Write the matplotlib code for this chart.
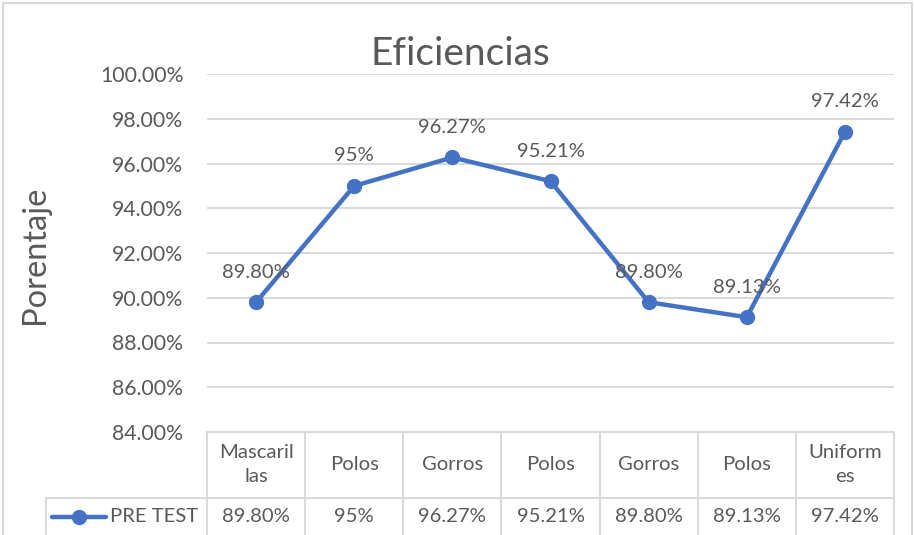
import matplotlib
matplotlib.use("Agg")
import matplotlib.pyplot as plt
from matplotlib.lines import Line2D
from matplotlib.patches import Rectangle
import matplotlib.transforms as mtransforms

# ---- data ----
categories = ["Mascaril\nlas", "Polos", "Gorros", "Polos", "Gorros", "Polos", "Uniform\nes"]
values = [89.80, 95.00, 96.27, 95.21, 89.80, 89.13, 97.42]
value_labels = ["89.80%", "95%", "96.27%", "95.21%", "89.80%", "89.13%", "97.42%"]
series_name = "PRE TEST"
yticks = [84, 86, 88, 90, 92, 94, 96, 98, 100]
title = "Eficiencias"
ylabel = "Porentaje"

# ---- style ----
plt.rcParams['font.family'] = ['Lato', 'DejaVu Sans']
TXT = "#595959"
GRID = "#D9D9D9"
LINE = "#4472C4"
FS = 14.6

W, H = 915, 535
fig = plt.figure(figsize=(W / 100, H / 100), dpi=100)


def fx(px):
    return px / W


def fy(py):
    return 1 - py / H


ax = fig.add_axes([fx(207), fy(432), fx(894) - fx(207), fy(74) - fy(432)])
x = list(range(len(values)))
ax.plot(x, values, color=LINE, lw=3.2, marker="o", ms=10, solid_capstyle="round", zorder=3)
for xi, v, lab in zip(x, values, value_labels):
    ax.annotate(lab, (xi, v), xytext=(0, 30), textcoords="offset pixels",
                ha="center", va="center", fontsize=FS, color=TXT)

ax.set_xlim(-0.5, len(values) - 0.5)
ax.set_ylim(84, 100)
ax.set_yticks(yticks)
ax.set_yticklabels([f"{t:.2f}%" for t in yticks], fontsize=15.3, color=TXT)
ax.tick_params(axis="y", length=0, pad=17)
ax.set_xticks([])
ax.grid(axis="y", color=GRID, lw=1.4)
ax.set_axisbelow(True)
for s in ax.spines.values():
    s.set_visible(False)

fig.text(fx(460), fy(54), title, ha="center", va="center", fontsize=28, color=TXT)
fig.text(fx(35), fy(255), ylabel, ha="center", va="center", rotation=90, fontsize=23.5, color=TXT)

# ---- data table ----
bt = mtransforms.blended_transform_factory(ax.transData, fig.transFigure)
ft = fig.transFigure
y_top, y_mid, y_bot = fy(432), fy(498), fy(540)
for i in range(len(values) + 1):
    xe = i - 0.5
    fig.add_artist(Line2D([xe, xe], [y_top, y_bot], transform=bt, color=GRID, lw=1.4))
fig.add_artist(Line2D([-0.5, len(values) - 0.5], [y_top, y_top], transform=bt, color=GRID, lw=1.4))
# middle line: from data-row left border to last column
disp_left = ft.transform((fx(46), 0))[0]
x_left_data = ax.transData.inverted().transform((disp_left, 0))[0]
fig.add_artist(Line2D([x_left_data, len(values) - 0.5], [y_mid, y_mid], transform=bt, color=GRID, lw=1.4))
fig.add_artist(Line2D([fx(46), fx(46)], [y_mid, y_bot], transform=ft, color=GRID, lw=1.4))

for xi, cat, lab in zip(x, categories, value_labels):
    fig.text(xi, fy(465), cat, transform=bt, ha="center", va="center", fontsize=FS,
             color=TXT, linespacing=1.5)
    fig.text(xi, fy(517), lab, transform=bt, ha="center", va="center", fontsize=FS, color=TXT)

# legend key
fig.add_artist(Line2D([fx(52), fx(106)], [fy(517), fy(517)], transform=ft, color=LINE, lw=3.2,
                      marker=None, solid_capstyle="round"))
fig.add_artist(Line2D([fx(79)], [fy(517)], transform=ft, color=LINE, marker="o", ms=10, lw=0))
fig.text(fx(110), fy(517), series_name, ha="left", va="center", fontsize=FS, color=TXT)

# outer chart border
fig.add_artist(Rectangle((fx(3), fy(545)), fx(912) - fx(3), fy(3) - fy(545), transform=ft,
                         fill=False, edgecolor=GRID, lw=1.5))

fig.savefig("out.png", dpi=100)
